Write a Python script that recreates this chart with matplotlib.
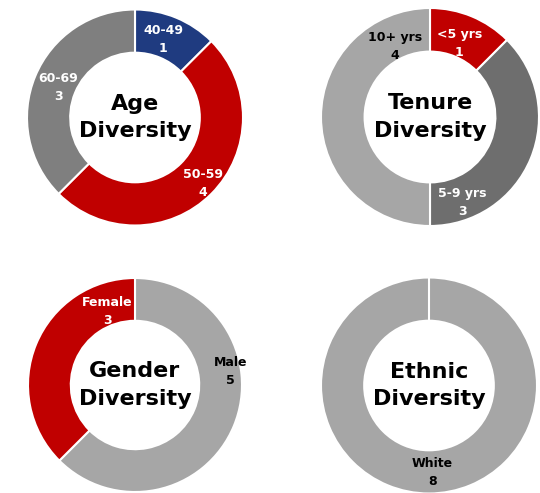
#!/usr/bin/env python

import matplotlib
matplotlib.use("Agg")
import matplotlib.pyplot as plt

RED = "#C00000"
NAVY = "#1F3B80"
GRAY = "#7F7F7F"
DARK_GRAY = "#6E6E6E"
LIGHT_GRAY = "#A6A6A6"

# data, in clockwise order from 12 o'clock
age_labels = ["40-49", "50-59", "60-69"]
age_values = [1, 4, 3]

tenure_labels = ["<5 yrs", "5-9 yrs", "10+ yrs"]
tenure_values = [1, 3, 4]

gender_labels = ["Male", "Female"]
gender_values = [5, 3]

ethnic_labels = ["White"]
ethnic_values = [8]

W, H = 540, 493

# layout: (title, labels, values, colors, text colors, label positions, centre px, radius px)
CHARTS = [
    ("Age\nDiversity", age_labels, age_values,
     [NAVY, RED, GRAY], ["white", "white", "white"],
     [(0.26, 0.72), (0.63, -0.61), (-0.71, 0.28)], (135, 117.5), 108),
    ("Tenure\nDiversity", tenure_labels, tenure_values,
     [RED, DARK_GRAY, LIGHT_GRAY], ["white", "white", "black"],
     [(0.27, 0.67), (0.30, -0.78), (-0.32, 0.65)], (430, 117), 109),
    ("Gender\nDiversity", gender_labels, gender_values,
     [LIGHT_GRAY, RED], ["black", "white"],
     [(0.89, 0.13), (-0.26, 0.69)], (135, 385), 107),
    ("Ethnic\nDiversity", ethnic_labels, ethnic_values,
     [LIGHT_GRAY], ["black"],
     [(0.03, -0.81)], (429, 385.5), 108),
]


def draw_donut(fig, title, labels, values, colors, text_colors, positions, center, radius):
    cx, cy = center
    ax = fig.add_axes([(cx - radius) / W, (H - cy - radius) / H,
                       2 * radius / W, 2 * radius / H])
    ax.pie(values, colors=colors, startangle=90, counterclock=False, radius=1,
           wedgeprops=dict(width=0.4, edgecolor="white", linewidth=1.5))
    if len(values) == 1:
        # single slice still shows a seam at the top
        ax.plot([0, 0], [0.6, 1.0], color="white", lw=1.5)
    ax.set_xlim(-1, 1)
    ax.set_ylim(-1, 1)
    ax.axis("off")

    ax.text(0, 0, title, ha="center", va="center", fontsize=16,
            fontweight="bold", linespacing=1.45, color="black")
    for label, value, tc, (x, y) in zip(labels, values, text_colors, positions):
        ax.text(x, y, f"{label}\n{value}", ha="center", va="center",
                fontsize=9, fontweight="bold", color=tc, linespacing=1.5)


def main():
    fig = plt.figure(figsize=(W / 100, H / 100), dpi=100)
    fig.patch.set_facecolor("white")
    for chart in CHARTS:
        draw_donut(fig, *chart)
    fig.savefig("out.png", dpi=100)


if __name__ == "__main__":
    main()
